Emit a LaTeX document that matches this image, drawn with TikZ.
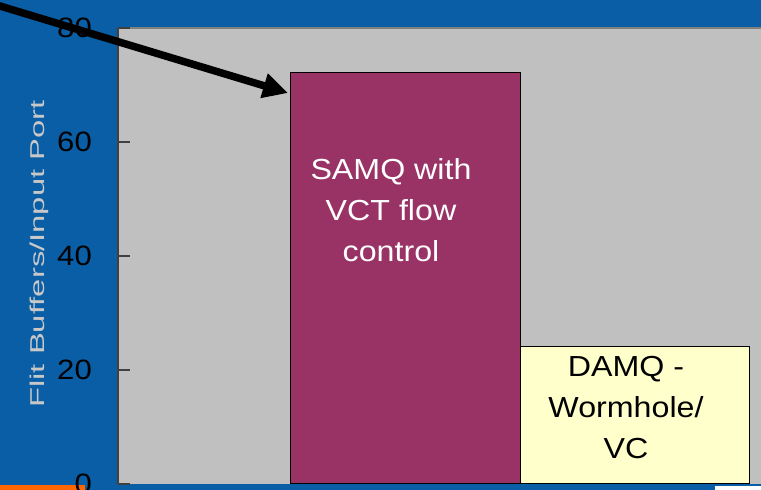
\documentclass[tikz,border=0pt]{standalone}
\usepackage{fontspec}
\setmainfont{Liberation Sans}
\newfontfamily\labfont[FakeStretch=1.11]{Liberation Sans}
\newfontfamily\axfont[FakeStretch=1.64]{Liberation Sans}
\usetikzlibrary{arrows.meta}
\definecolor{slideblue}{HTML}{0A5EA6}
\definecolor{plotgray}{HTML}{C0C0C0}
\definecolor{barmaroon}{HTML}{993366}
\definecolor{baryellow}{HTML}{FFFFCC}
\definecolor{stripe}{HTML}{FF6600}
\definecolor{axisdark}{HTML}{404040}
\definecolor{labelgray}{HTML}{C8C8C8}
\tikzset{
  x=1pt, y=-1pt,
  barbox/.style={draw=black, line width=1pt, inner sep=0pt, anchor=south west},
  bartext/.style={align=center, inner sep=0pt, font=\labfont\fontsize{29}{41}\selectfont},
  ticklabel/.style={anchor=east, inner sep=0pt, font=\labfont\fontsize{28}{30}\selectfont, text=black},
  tickmark/.style={draw=axisdark, line width=1.5pt},
  pointer/.style={draw=black, line width=7.5pt, -{Triangle[length=25pt,width=24pt]}}
}
\begin{document}
\begin{tikzpicture}
\useasboundingbox (0,0) rectangle (761,490);
% slide background
\fill[slideblue] (0,0) rectangle (761,490);
\fill[stripe] (0,485) rectangle (85,490);
\fill[white] (715,486) rectangle (761,490);
% plot area
\fill[plotgray] (118,28) rectangle (761,484);
\draw[draw=gray, line width=1.5pt] (118,28) -- (761,28);
\draw[draw=axisdark, line width=1.5pt] (118,28) -- (118,484);
% bars
\node[barbox, fill=barmaroon, minimum width=230pt, minimum height=411pt] (samq) at (290,484) {};
\node[barbox, fill=baryellow, minimum width=229pt, minimum height=137pt] (damq) at (520,484) {};
% ticks and their labels
\foreach \v/\yy in {0/484, 20/370, 40/256, 60/142, 80/28} {
  \draw[tickmark] (118,\yy) -- (130,\yy);
  \node[ticklabel] (t\v) at (92,\yy) {\v};
}
% axis title
\node[rotate=90, inner sep=0pt, text=labelgray, font=\axfont\fontsize{20}{22}\selectfont] (ytitle) at (39,254) {Flit Buffers/Input Port};
% bar labels
\node[bartext, text=white] (samqtext) at (391,210) {SAMQ with\\VCT flow\\control};
\node[bartext, text=black] (damqtext) at (626,408) {DAMQ -\\Wormhole/\\VC};
% pointer arrow
\coordinate (from) at (-10,3);
\coordinate (tip) at (288,93);
\draw[pointer] (from) -- (tip);
\end{tikzpicture}
\end{document}
